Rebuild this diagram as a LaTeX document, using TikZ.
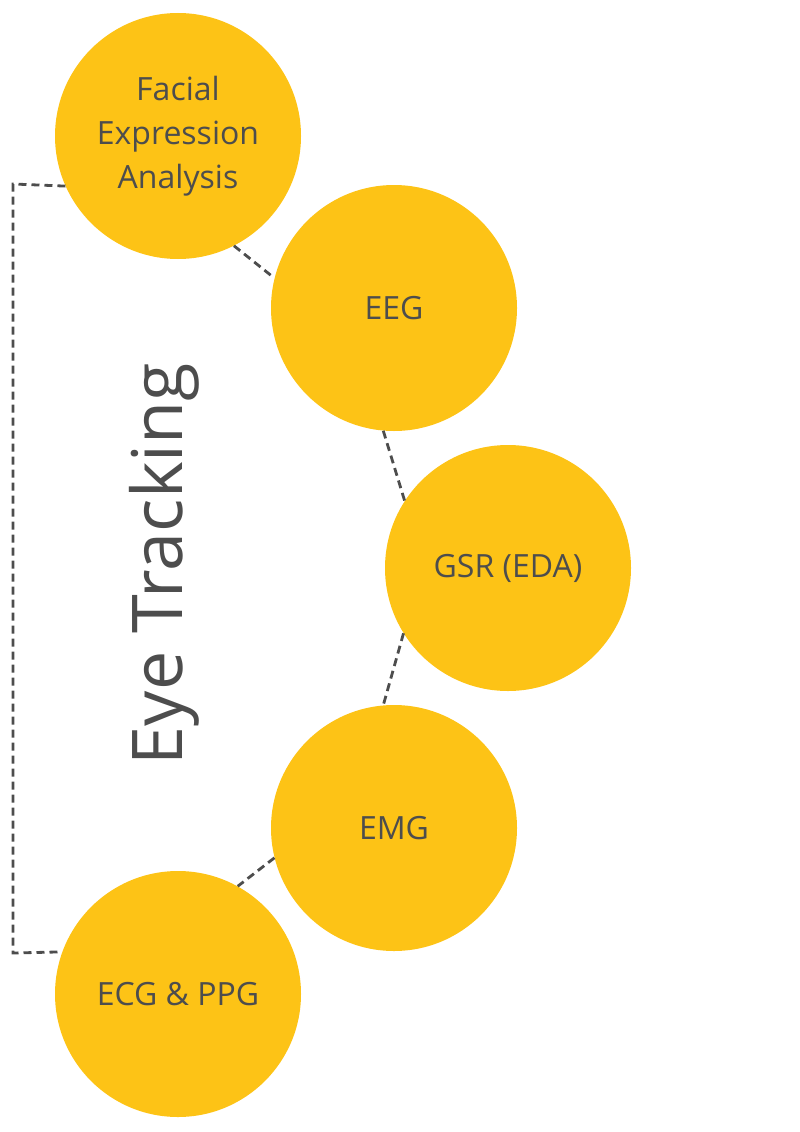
\documentclass[tikz,border=0pt]{standalone}
\usepackage{fontspec}
\setmainfont{Open Sans}
\definecolor{sensorfill}{HTML}{FDC316}
\definecolor{inkgray}{HTML}{4D4D4D}
\begin{document}
\begin{tikzpicture}[x=1pt, y=-1pt,
    sensor/.style={circle, fill=sensorfill, minimum size=246pt, inner sep=0pt, text=inkgray, align=center, font=\fontsize{32}{44}\selectfont},
    link/.style={draw=inkgray, line width=2.8pt, dash pattern=on 8pt off 5pt}]
    \useasboundingbox (0,0) rectangle (800,1132);

    % Sensoren
    \node[sensor] (face) at (178,136) {Facial\\Expression\\Analysis};
    \node[sensor] (eeg) at (394,308) {EEG};
    \node[sensor] (gsr) at (508,568) {GSR (EDA)};
    \node[sensor] (emg) at (394,828) {EMG};
    \node[sensor] (ecg) at (178,994) {ECG \& PPG};

    % Verbindungen
    \draw[link] (face.-63) -- (eeg.166);
    \draw[link] (eeg.-95) -- (gsr.147);
    \draw[link] (gsr.-148) -- (emg.95);
    \draw[link] (emg.-166) -- (ecg.61);

    % Klammer
    \coordinate (brtop) at (13,184);
    \coordinate (brbot) at (13,953);
    \draw[link] (face.-156) -- (brtop) -- (brbot) -- (ecg.160);

    \node[text=inkgray, rotate=90, font=\fontsize{70}{70}\selectfont] (eyetrack) at (164,564) {Eye Tracking};
\end{tikzpicture}
\end{document}
